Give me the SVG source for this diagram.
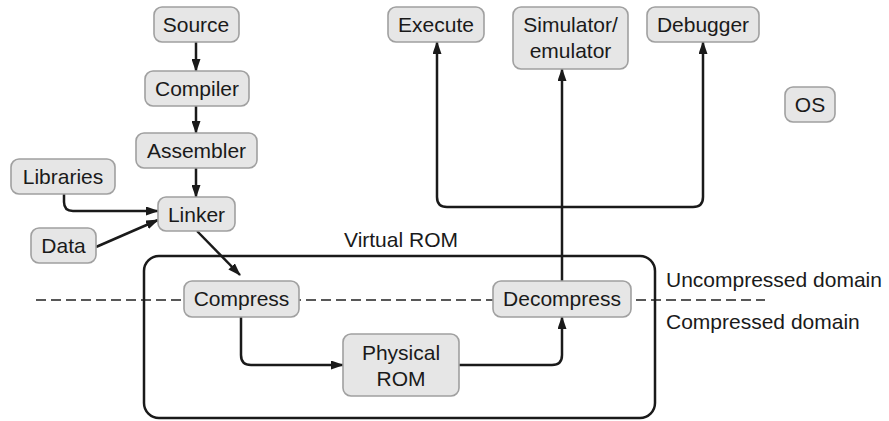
<svg xmlns="http://www.w3.org/2000/svg" width="889" height="421" viewBox="0 0 889 421">
<style>
.box{fill:#e6e6e6;stroke:#a0a0a0;stroke-width:1.6}
.t{font-family:"Liberation Sans",Arial,sans-serif;font-size:21px;fill:#1a1a1a;text-anchor:middle}
.tl{font-family:"Liberation Sans",Arial,sans-serif;font-size:21px;fill:#1a1a1a}
.c{fill:none;stroke:#1a1a1a;stroke-width:2.5}
</style>
<defs>
<marker id="ah" markerUnits="userSpaceOnUse" markerWidth="13" markerHeight="9" refX="12" refY="4.5" orient="auto">
<path d="M0,0 L13,4.5 L0,9 z" fill="#1a1a1a"/>
</marker>
</defs>
<rect width="889" height="421" fill="#fff"/>
<g id="domain-line">
<line x1="36" y1="300" x2="765" y2="300" stroke="#222" stroke-width="1.5" stroke-dasharray="10,5"/>
<text class="tl" x="666" y="287">Uncompressed domain</text>
<text class="tl" x="666" y="329">Compressed domain</text>
</g>
<g id="virtual-rom">
<rect x="144" y="256" width="511" height="162" rx="15" fill="none" stroke="#1a1a1a" stroke-width="2.5"/>
<text class="t" x="401" y="247">Virtual ROM</text>
</g>
<g id="connectors">
<path class="c" d="M196 42 V71" marker-end="url(#ah)"/>
<path class="c" d="M196 106 V133" marker-end="url(#ah)"/>
<path class="c" d="M196 168 V197" marker-end="url(#ah)"/>
<path class="c" d="M64 194 V202 Q64 211 73 211 H158" marker-end="url(#ah)"/>
<path class="c" d="M96 247 L158 220" marker-end="url(#ah)"/>
<path class="c" d="M197 231 L240 275" marker-end="url(#ah)"/>
<path class="c" d="M241 317 V355 Q241 365 251 365 H343" marker-end="url(#ah)"/>
<path class="c" d="M459 365 H552 Q562 365 562 355 V317" marker-end="url(#ah)"/>
<path class="c" d="M562 281 V69" marker-end="url(#ah)"/>
<path class="c" d="M562 207 H447 Q437 207 437 197 V42" marker-end="url(#ah)"/>
<path class="c" d="M562 207 H693 Q703 207 703 197 V42" marker-end="url(#ah)"/>
</g>
<g id="source"><rect class="box" x="154" y="7" width="85" height="35" rx="8"/><text class="t" x="196" y="32">Source</text></g>
<g id="compiler"><rect class="box" x="145" y="71" width="104" height="35" rx="8"/><text class="t" x="197" y="96">Compiler</text></g>
<g id="assembler"><rect class="box" x="136" y="133" width="121" height="35" rx="8"/><text class="t" x="196.5" y="158">Assembler</text></g>
<g id="libraries"><rect class="box" x="11" y="159" width="104" height="35" rx="8"/><text class="t" x="63" y="184">Libraries</text></g>
<g id="linker"><rect class="box" x="158" y="197" width="77" height="34" rx="8"/><text class="t" x="196.5" y="221.5">Linker</text></g>
<g id="data"><rect class="box" x="31" y="228" width="65" height="35" rx="8"/><text class="t" x="63.5" y="253">Data</text></g>
<g id="execute"><rect class="box" x="388" y="7" width="96" height="35" rx="8"/><text class="t" x="436" y="32">Execute</text></g>
<g id="simulator"><rect class="box" x="513" y="7" width="115" height="62" rx="8"/><text class="t" x="570.5" y="32">Simulator/</text><text class="t" x="570.5" y="58">emulator</text></g>
<g id="debugger"><rect class="box" x="647" y="7" width="112" height="35" rx="8"/><text class="t" x="703" y="32">Debugger</text></g>
<g id="os"><rect class="box" x="785" y="87" width="50" height="35" rx="8"/><text class="t" x="810" y="112">OS</text></g>
<g id="compress"><rect class="box" x="184" y="281" width="115" height="36" rx="8"/><text class="t" x="241.5" y="306">Compress</text></g>
<g id="decompress"><rect class="box" x="493" y="281" width="138" height="36" rx="8"/><text class="t" x="562" y="306">Decompress</text></g>
<g id="physical-rom"><rect class="box" x="343" y="334" width="116" height="62" rx="8"/><text class="t" x="401" y="360">Physical</text><text class="t" x="401" y="386">ROM</text></g>
</svg>
